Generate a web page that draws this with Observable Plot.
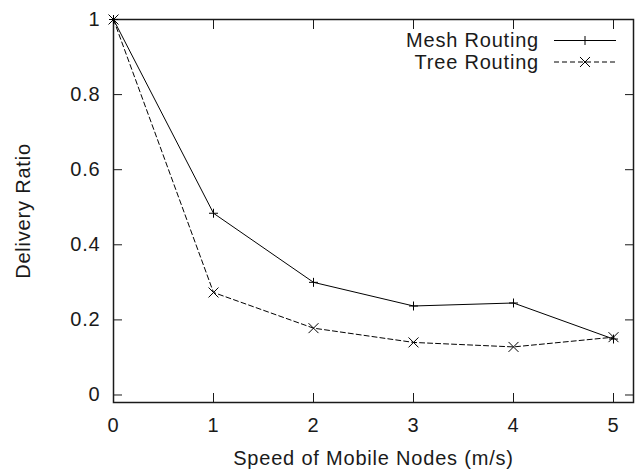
<!DOCTYPE html>
<html>
<head>
<meta charset="utf-8">
<script src="https://cdn.jsdelivr.net/npm/d3@7"></script>
<script src="https://cdn.jsdelivr.net/npm/@observablehq/plot@0.6"></script>
<style>
  html, body { margin: 0; padding: 0; background: #fff; }
  #chart svg text { letter-spacing: 0.8px; }
</style>
</head>
<body>
<div id="chart"></div>
<script>
const speed = [0, 1, 2, 3, 4, 5];
const meshRouting = [1.0, 0.484, 0.300, 0.237, 0.245, 0.149];
const treeRouting = [1.0, 0.273, 0.178, 0.140, 0.128, 0.154];
const xTicks = [0, 1, 2, 3, 4, 5];
const yTicks = [0, 0.2, 0.4, 0.6, 0.8, 1];
const seriesNames = ["Mesh Routing", "Tree Routing"];

const mesh = speed.map((s, i) => ({speed: s, ratio: meshRouting[i]}));
const tree = speed.map((s, i) => ({speed: s, ratio: treeRouting[i]}));

const ink = "#1a1a1a";
const fmt = d => String(d);
const blank = () => "";

const chart = Plot.plot({
  width: 638,
  height: 469,
  marginLeft: 113,
  marginRight: 5,
  marginTop: 19,
  marginBottom: 67,
  style: {fontFamily: "'Liberation Sans', Arial, sans-serif", fontSize: "20px", color: ink, background: "white", overflow: "visible"},
  x: {domain: [0, 5.2]},
  y: {domain: [-0.02, 1]},
  marks: [
    Plot.axisX(xTicks, {anchor: "bottom", tickSize: 0, tickPadding: 15, tickFormat: fmt,
      label: "Speed of Mobile Nodes (m/s)", labelAnchor: "center", labelArrow: "none", labelOffset: 62}),
    Plot.axisX(xTicks, {anchor: "bottom", tickSize: -9, tickFormat: blank, label: null}),
    Plot.axisX(xTicks, {anchor: "top", tickSize: -9, tickFormat: blank, label: null}),
    Plot.axisY(yTicks, {anchor: "left", tickSize: 0, tickPadding: 13, tickFormat: fmt,
      label: "Delivery Ratio", labelAnchor: "center", labelArrow: "none", labelOffset: 98}),
    Plot.axisY(yTicks, {anchor: "left", tickSize: -9, tickFormat: blank, label: null}),
    Plot.axisY(yTicks, {anchor: "right", tickSize: -9, tickFormat: blank, label: null}),
    Plot.frame({stroke: ink, strokeWidth: 1.5}),
    Plot.line(mesh, {x: "speed", y: "ratio", stroke: "black", strokeWidth: 1}),
    Plot.line(tree, {x: "speed", y: "ratio", stroke: "black", strokeWidth: 1, strokeDasharray: "5,3"}),
    Plot.dot(mesh, {x: "speed", y: "ratio", symbol: "plus", r: 3, stroke: "black", strokeWidth: 1}),
    Plot.dot(tree, {x: "speed", y: "ratio", symbol: "times", r: 4.6, stroke: "black", strokeWidth: 1})
  ]
});

document.getElementById("chart").appendChild(chart);

// Legend (inside the plot frame, top-right)
const svg = d3.select(chart);
const lg = svg.append("g").attr("font-family", "'Liberation Sans', Arial, sans-serif").attr("font-size", 20).attr("fill", ink);
const legendRows = [
  {name: seriesNames[0], dash: null, symbol: d3.symbolPlus, size: 28.4, y: 40.5},
  {name: seriesNames[1], dash: "5,3", symbol: d3.symbolTimes, size: 67, y: 62}
];
legendRows.forEach(r => {
  lg.append("text").attr("x", 539).attr("y", r.y + 6.5).attr("text-anchor", "end").text(r.name);
  lg.append("line").attr("x1", 554).attr("x2", 616).attr("y1", r.y).attr("y2", r.y)
    .attr("stroke", "black").attr("stroke-width", 1).attr("stroke-dasharray", r.dash);
  lg.append("path").attr("d", d3.symbol(r.symbol, r.size)()).attr("transform", `translate(585,${r.y})`)
    .attr("fill", "none").attr("stroke", "black").attr("stroke-width", 1);
});
</script>
</body>
</html>
